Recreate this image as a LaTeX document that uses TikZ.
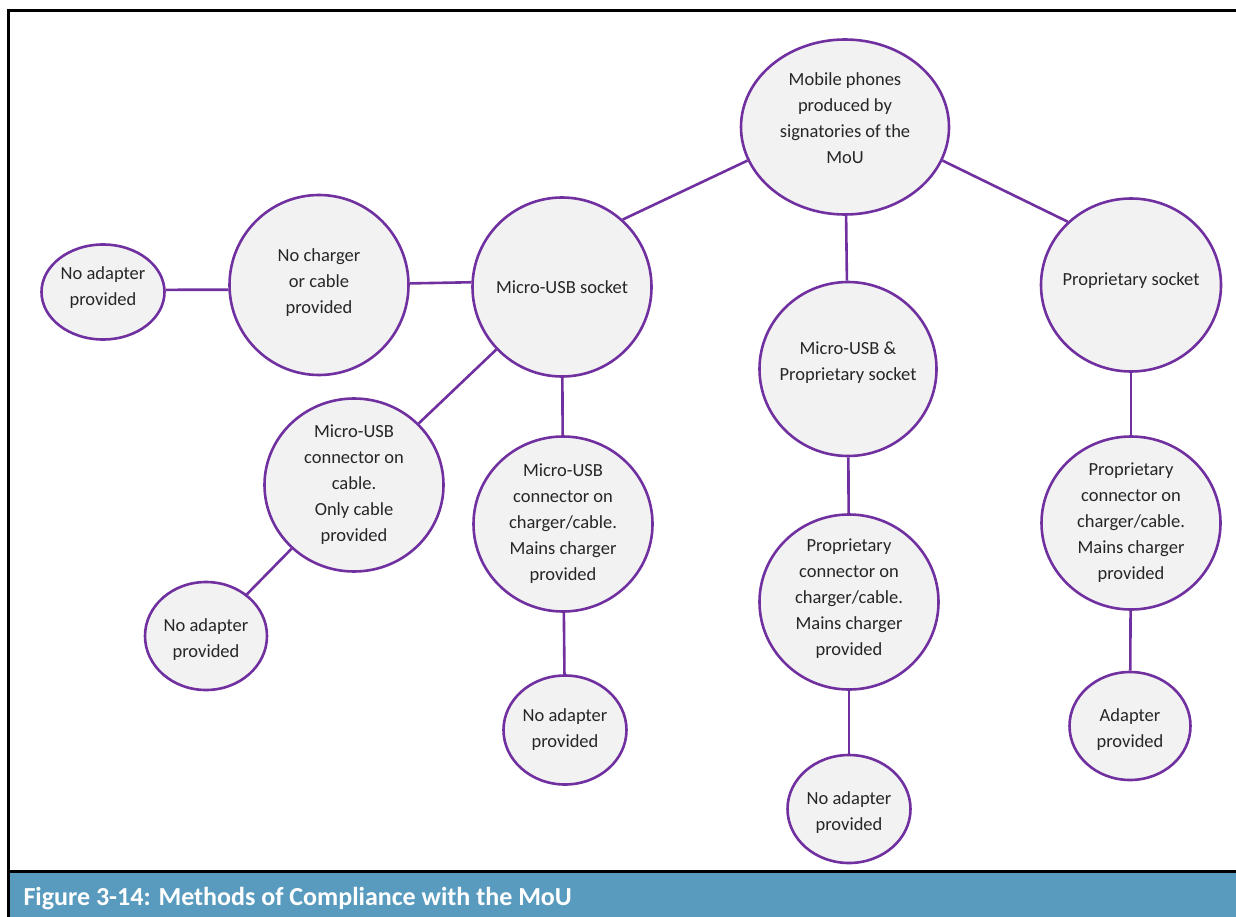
\documentclass[tikz,border=0pt]{standalone}
\usepackage{fontspec}
\setmainfont{Carlito}
\usepackage{xcolor}
\usetikzlibrary{shapes.geometric}

\definecolor{mou}{RGB}{112,48,160}
\definecolor{capblue}{RGB}{88,155,190}

\begin{document}
\begin{tikzpicture}[x=1pt,y=-1pt,
 bub/.style={ellipse,draw=mou,fill=black!5,line width=2.6pt,inner sep=-14pt,
  align=center,text=black!85,font=\fontsize{18.5}{26}\selectfont},
 big/.style={bub,minimum width=179pt,minimum height=175pt},
 small/.style={bub,minimum width=122pt,minimum height=108pt},
 link/.style={draw=mou,line width=2.6pt}]
\clip (0,0) rectangle (1236,917);
% Frame and caption bar.
\fill[capblue] (8,871) rectangle (1260,940);
\draw[line width=3pt] (8,940) -- (8,11) -- (1260,11);
\draw[line width=3pt] (8,871) -- (1260,871);
\node[anchor=west,text=white,font=\fontsize{26}{30}\bfseries] (cap) at (20,899)
 {Figure 3-14: Methods of Compliance with the MoU};

% Top level and the three socket types.
\node[big,minimum width=208pt,text depth=18pt] (phones) at (845,127)
 {Mobile phones\\produced by\\signatories of the\\MoU};
\node[big,minimum height=179pt] (musb) at (562,287) {Micro-USB socket};
\node[big,minimum height=173pt,minimum width=180pt,text depth=12pt] (prop) at (1131,285)
 {Proprietary socket};
\node[big,minimum width=177pt,minimum height=174pt,text depth=15pt] (both) at (848,369)
 {Micro-USB \&\\Proprietary socket};

% Micro-USB socket branch.
\node[big,minimum height=180pt,text depth=8pt] (nocable) at (319,285) {No charger\\or cable\\provided};
\node[small,minimum height=95pt,minimum width=123pt,text depth=12pt] (noadl) at (103,292)
 {No adapter\\provided};
\node[big,minimum height=173pt] (cable) at (354,485)
 {Micro-USB\\connector on\\cable.\\Only cable\\provided};
\node[small,text height=46pt] (noadc) at (206,636) {No adapter\\provided};
\node[big] (mains) at (563,524)
 {Micro-USB\\connector on\\charger/cable.\\Mains charger\\provided};
\node[small,minimum width=123pt,minimum height=109pt] (noadm) at (565,730) {No adapter\\provided};

% Dual socket branch.
\node[big,text depth=10pt] (bothch) at (849,602)
 {Proprietary\\connector on\\charger/cable.\\Mains charger\\provided};
\node[small,minimum width=123pt,text height=45pt] (noadb) at (849,809) {No adapter\\provided};

% Proprietary socket branch.
\node[big,minimum height=173pt] (propch) at (1131,523)
 {Proprietary\\connector on\\charger/cable.\\Mains charger\\provided};
\node[small,minimum width=121pt,text height=46pt] (adapter) at (1130,726) {Adapter\\provided};

\draw[link] (phones.199) -- (musb.48);
\draw[link] (phones.341) -- (prop.135);
\draw[link] (phones) -- (both);
\draw[link] (musb.177) -- (nocable.1);
\draw[link] (nocable.183) -- (noadl.2);
\draw[link] (musb) -- (cable);
\draw[link] (cable) -- (noadc);
\draw[link] (musb) -- (mains);
\draw[link] (mains) -- (noadm);
\draw[link] (both) -- (bothch);
\draw[link] (bothch) -- (noadb);
\draw[link] (prop) -- (propch);
\draw[link] (propch) -- (adapter);
\end{tikzpicture}
\end{document}
